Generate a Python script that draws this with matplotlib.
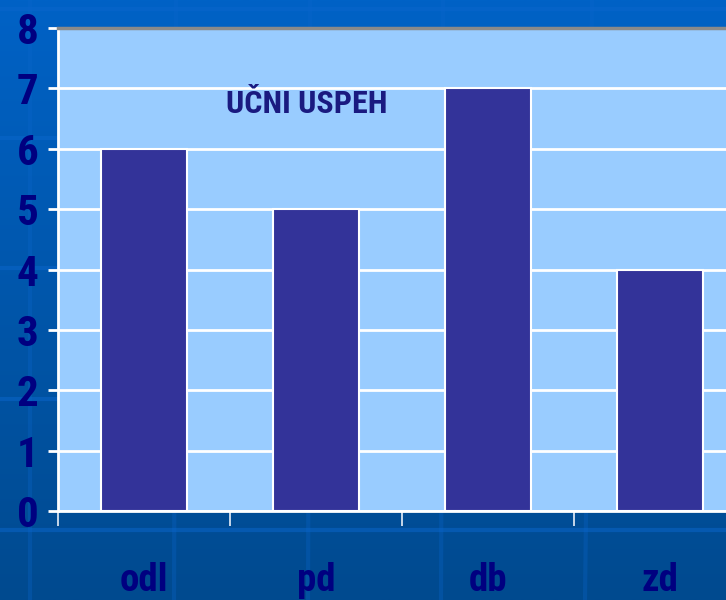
import numpy as np
import matplotlib
matplotlib.use("Agg")
import matplotlib.pyplot as plt
from matplotlib.colors import LinearSegmentedColormap

# data
categories = ["odl", "pd", "db", "zd"]
values = [6, 5, 7, 4]
title = "UČNI USPEH"

plt.rcParams['font.family'] = ['Roboto Condensed', 'DejaVu Sans']
plt.rcParams['font.stretch'] = 'condensed'
navy = "#000080"

W, H = 726, 600
fig = plt.figure(figsize=(W / 100, H / 100), dpi=100)

# slide background: blue gradient with faint grid
bg = fig.add_axes([0, 0, 1, 1])
bg.set_xlim(0, W)
bg.set_ylim(H, 0)
bg.axis("off")
cmap = LinearSegmentedColormap.from_list("bg", ["#0062c6", "#004a8f"])
grad = np.linspace(0, 1, 256).reshape(-1, 1)
bg.imshow(grad, cmap=cmap, aspect="auto", extent=[0, W, H, 0], zorder=0)
for yy in [9, 138, 268, 399, 530]:
    bg.plot([0, W], [yy, yy], color="#0a66cc", lw=3, alpha=0.5, zorder=1)
for x0, x1 in [(30, 30), (176, 174), (310, 308), (443, 441), (592, 585)]:
    bg.plot([x0, x1], [0, H], color="#0a66cc", lw=3, alpha=0.3, zorder=1)

# chart area (runs off the right edge like the original)
ax = fig.add_axes([58 / W, 89 / H, 688 / W, 483 / H])
ax.set_facecolor("#99ccff")
x = np.arange(len(categories))
ax.bar(x, values, width=0.5, color="#333399", edgecolor="white", linewidth=1.5, zorder=3)
ax.set_xlim(-0.5, len(categories) - 0.5)
ax.set_ylim(0, 8)

ax.set_yticks(range(0, 9))
ax.yaxis.grid(True, color="white", lw=2, zorder=1)
ax.set_axisbelow(True)
ax.tick_params(axis="y", direction="out", length=7, width=2, color="white",
               labelsize=31, labelcolor=navy, pad=7)
for lab in ax.get_yticklabels():
    lab.set_fontweight("bold")

ax.set_xticks(x)
ax.set_xticklabels(categories, fontsize=28, fontweight="bold", color=navy)
ax.tick_params(axis="x", which="major", length=0, pad=37)
ax.set_xticks(np.arange(-0.5, len(categories)), minor=True)
ax.tick_params(axis="x", which="minor", direction="out", length=11, width=1.2, color="#e8eef8")

for side in ["left", "bottom"]:
    ax.spines[side].set_color("white")
    ax.spines[side].set_linewidth(2)
ax.spines["top"].set_color("#8a8a8a")
ax.spines["top"].set_linewidth(2.5)
ax.spines["right"].set_visible(False)

ax.text(0.948, 6.74, title, ha="center", va="center", fontsize=23,
        fontweight="bold", color="#1a1a80", zorder=4)

fig.savefig("out.png", dpi=100)
